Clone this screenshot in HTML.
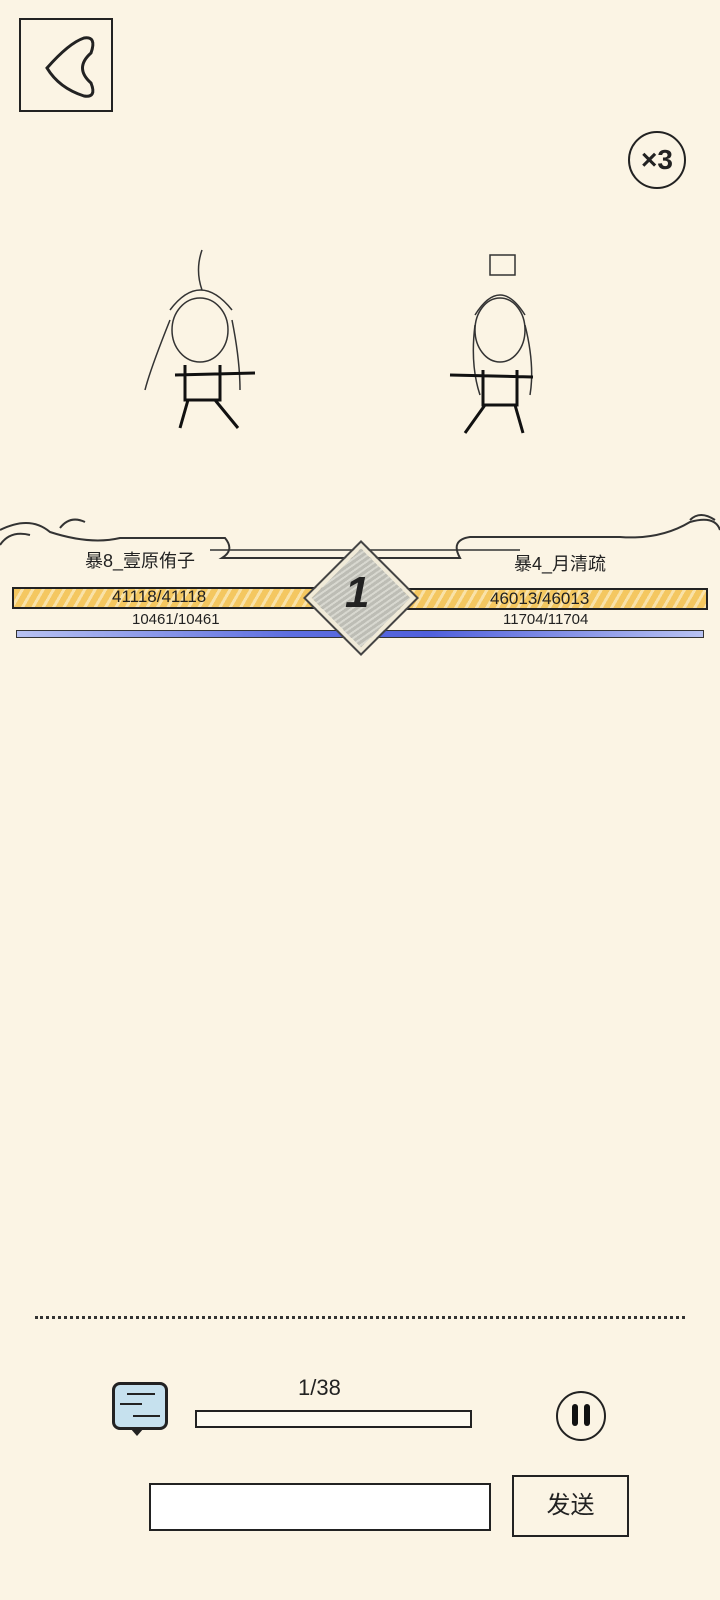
<!DOCTYPE html>
<html><head><meta charset="utf-8"><style>
html,body{margin:0;padding:0}
body{width:720px;height:1600px;background:#fbf4e4;position:relative;overflow:hidden;font-family:"Liberation Sans","Noto Sans CJK SC",sans-serif;color:#222}
.a{position:absolute}
</style></head><body>
<!-- back button -->
<div class="a" style="left:19px;top:18px;width:94px;height:94px;border:2px solid #222;box-sizing:border-box"></div>
<svg class="a" style="left:19px;top:18px" width="94" height="94"><path d="M65 20 Q50 25 28 50 Q40 70 65 78 Q78 80 72 65 Q55 50 72 35 Q78 18 65 20Z" fill="none" stroke="#222" stroke-width="3"/></svg>
<!-- x3 -->
<div class="a" style="left:628px;top:131px;width:58px;height:58px;border:2px solid #222;border-radius:50%;box-sizing:border-box;font-weight:bold;font-size:28px;text-align:center;line-height:54px">×3</div>
<!-- characters -->
<svg class="a" style="left:140px;top:240px" width="130" height="200" fill="none" stroke="#333" stroke-width="1.5">
<ellipse cx="60" cy="90" rx="28" ry="32"/><path d="M30 70 Q60 30 92 70 M62 10 Q55 30 62 50 M30 80 Q10 130 5 150 M92 80 Q100 120 100 150"/>
<path d="M45 125 L45 160 L80 160 L80 125 M35 135 L115 133 M48 160 L40 188 M75 160 L98 188" stroke="#111" stroke-width="3"/></svg>
<svg class="a" style="left:445px;top:245px" width="100" height="195" fill="none" stroke="#333" stroke-width="1.5">
<ellipse cx="55" cy="85" rx="25" ry="32"/><rect x="45" y="10" width="25" height="20"/><path d="M30 70 Q55 30 80 70 M30 80 Q25 120 35 150 M80 80 Q90 120 85 150"/>
<path d="M38 125 L38 160 L72 160 L72 125 M5 130 L88 132 M40 160 L20 188 M70 160 L78 188" stroke="#111" stroke-width="3"/></svg>
<!-- banner -->
<svg class="a" style="left:0;top:510px" width="720" height="70" fill="none" stroke="#333" stroke-width="2">
<path d="M0 20 Q30 5 50 22 Q90 35 120 28 L225 28 Q235 40 222 48 L460 48 Q450 30 470 27 L620 27 Q660 30 690 12 Q715 5 720 20"/>
<path d="M0 35 Q10 20 30 25 M60 18 Q70 5 85 12 M690 10 Q700 0 715 10"/>
<path d="M210 40 L520 40" stroke-width="1.5"/>
</svg>
<div class="a" style="left:85px;top:547px;font-size:18px">暴8_壹原侑子</div>
<div class="a" style="left:514px;top:550px;font-size:18px">暴4_月清疏</div>
<!-- hp bars -->
<div class="a" style="left:12px;top:587px;width:313px;height:22px;background:repeating-linear-gradient(120deg,#f4c760 0 6px,#f9e2a8 6px 9px);border:2px solid #222;box-sizing:border-box"></div>
<div class="a" style="left:393px;top:588px;width:315px;height:22px;background:repeating-linear-gradient(120deg,#f4c760 0 6px,#f9e2a8 6px 9px);border:2px solid #222;box-sizing:border-box"></div>
<div class="a" style="left:112px;top:587px;font-size:17px">41118/41118</div>
<div class="a" style="left:490px;top:589px;font-size:17px">46013/46013</div>
<div class="a" style="left:132px;top:611px;font-size:15px">10461/10461</div>
<div class="a" style="left:503px;top:611px;font-size:15px">11704/11704</div>
<div class="a" style="left:16px;top:630px;width:688px;height:8px;background:linear-gradient(90deg,#b8c2f2,#5d6ee0 40%,#5060dc 60%,#b8c2f2);border:1px solid #333;box-sizing:border-box"></div>
<!-- diamond -->
<div class="a" style="left:322px;top:559px;width:70px;height:70px;transform:rotate(45deg);background:repeating-linear-gradient(100deg,#bdbdb5 0 3px,#d8d8d0 3px 5px);border:4px solid #f0ead8;outline:2px solid #444"></div>
<div class="a" style="left:345px;top:568px;font-size:44px;font-weight:bold;font-style:italic">1</div>
<!-- dotted line -->
<div class="a" style="left:35px;top:1316px;width:650px;border-top:3px dotted #333"></div>
<!-- bottom controls -->
<div class="a" style="left:112px;top:1382px;width:56px;height:48px;background:#c6e1ee;border:3px solid #222;border-radius:8px;box-sizing:border-box"></div>
<div class="a" style="left:130px;top:1428px;width:0;height:0;border-left:7px solid transparent;border-right:7px solid transparent;border-top:8px solid #222"></div>
<div class="a" style="left:127px;top:1393px;width:28px;border-top:2px solid #222"></div>
<div class="a" style="left:120px;top:1403px;width:22px;border-top:2px solid #222"></div>
<div class="a" style="left:133px;top:1415px;width:27px;border-top:2px solid #222"></div>
<div class="a" style="left:298px;top:1375px;font-size:22px">1/38</div>
<div class="a" style="left:195px;top:1410px;width:277px;height:18px;border:2px solid #222;background:#fdfaf0;box-sizing:border-box"></div>
<div class="a" style="left:556px;top:1391px;width:50px;height:50px;border:2px solid #222;border-radius:50%;box-sizing:border-box"></div>
<div class="a" style="left:572px;top:1404px;width:6px;height:22px;background:#111;border-radius:3px"></div>
<div class="a" style="left:584px;top:1404px;width:6px;height:22px;background:#111;border-radius:3px"></div>
<div class="a" style="left:149px;top:1483px;width:342px;height:48px;background:#fff;border:2px solid #222;box-sizing:border-box"></div>
<div class="a" style="left:512px;top:1475px;width:117px;height:62px;border:2px solid #222;box-sizing:border-box;font-size:24px;text-align:center;line-height:58px">发送</div>
</body></html>
